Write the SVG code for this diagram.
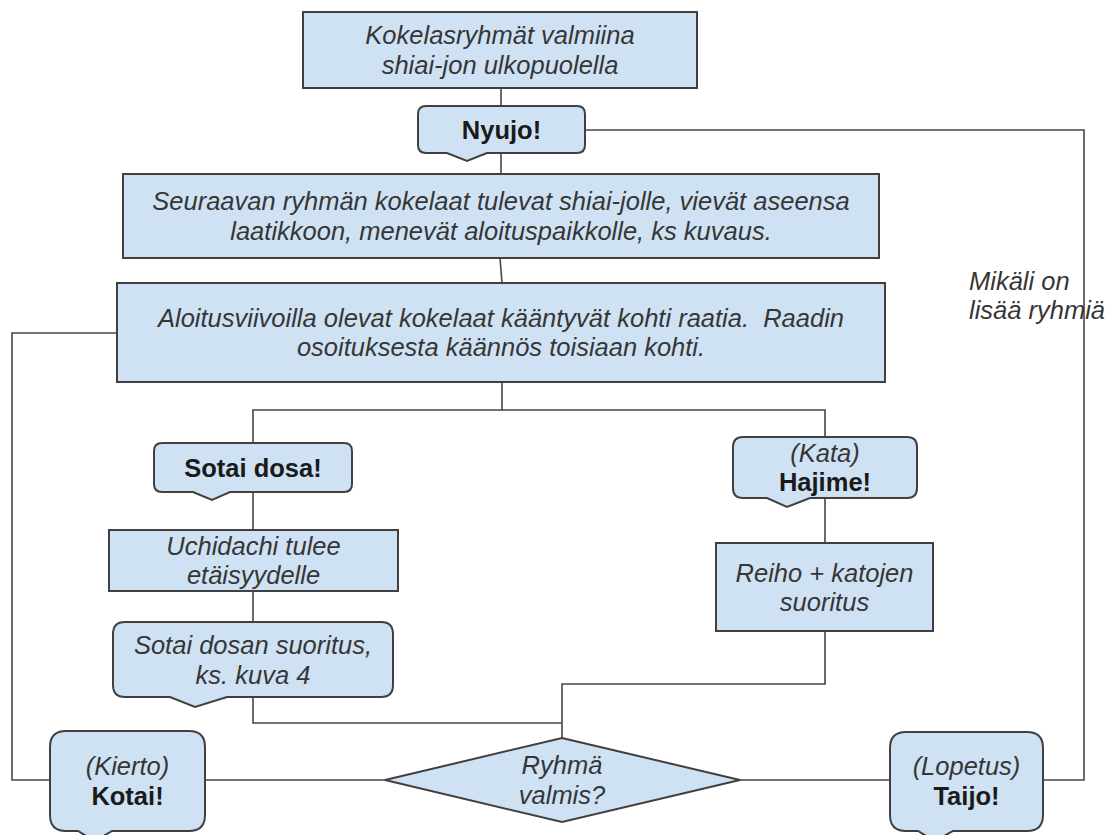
<svg xmlns="http://www.w3.org/2000/svg" width="1108" height="835" viewBox="0 0 1108 835">
<style>
.box{fill:#cfe2f3;stroke:#404040;stroke-width:2}
.ln{fill:none;stroke:#474747;stroke-width:1.6}
text{font-family:"Liberation Sans",Arial,sans-serif;font-size:25.5px;text-anchor:middle}
.i{font-style:italic;fill:#363636}
.b{font-weight:bold;fill:#1a1a1a}
</style>
<rect width="1108" height="835" fill="#ffffff"/>
<g id="connectors">
<path class="ln" d="M501,88 V106"/>
<path class="ln" d="M501,153 V174"/>
<path class="ln" d="M500,258 L502,283"/>
<path class="ln" d="M502,382 V410 H253 V443"/>
<path class="ln" d="M502,410 H825 V437"/>
<path class="ln" d="M117,333 H12 V780 H50"/>
<path class="ln" d="M253,492 V530"/>
<path class="ln" d="M253,591 V622"/>
<path class="ln" d="M253,697 V723 H562"/>
<path class="ln" d="M825,498 V543"/>
<path class="ln" d="M825,631 V684 H562 V738"/>
<path class="ln" d="M385,780 H205"/>
<path class="ln" d="M740,780 H890"/>
<path class="ln" d="M1043,780 H1084 V130 H585"/>
</g>
<g id="n1">
<rect class="box" x="303" y="12" width="394" height="76"/>
<text class="i" x="500" y="44">Kokelasryhmät valmiina</text>
<text class="i" x="500" y="73.5">shiai-jon ulkopuolella</text>
</g>
<g id="n2">
<path class="box" d="M426,106 H577 Q585,106 585,114 V145 Q585,153 577,153 H487 L467,161 L447,153 H426 Q418,153 418,145 V114 Q418,106 426,106 Z"/>
<text class="b" x="501.5" y="139">Nyujo!</text>
</g>
<g id="n3">
<rect class="box" x="123" y="174" width="756" height="84"/>
<text class="i" x="501" y="210">Seuraavan ryhmän kokelaat tulevat shiai-jolle, vievät aseensa</text>
<text class="i" x="501" y="239.5">laatikkoon, menevät aloituspaikkolle, ks kuvaus.</text>
</g>
<g id="n4">
<rect class="box" x="117" y="283" width="768" height="99"/>
<text class="i" x="501" y="326.5" style="white-space:pre">Aloitusviivoilla olevat kokelaat kääntyvät kohti raatia.  Raadin</text>
<text class="i" x="501" y="356">osoituksesta käännös toisiaan kohti.</text>
</g>
<g id="n5">
<path class="box" d="M162,443 H344 Q352,443 352,451 V484 Q352,492 344,492 H230 L212,500 L193,492 H162 Q154,492 154,484 V451 Q154,443 162,443 Z"/>
<text class="b" x="253" y="477">Sotai dosa!</text>
</g>
<g id="n6">
<rect class="box" x="109" y="530" width="289" height="61"/>
<text class="i" x="253.5" y="554.5">Uchidachi tulee</text>
<text class="i" x="253.5" y="584">etäisyydelle</text>
</g>
<g id="n7">
<path class="box" d="M125,622 H381 Q393,622 393,634 V685 Q393,697 381,697 H227 L195,707 L170,697 H125 Q113,697 113,685 V634 Q113,622 125,622 Z"/>
<text class="i" x="253" y="653.5">Sotai dosan suoritus,</text>
<text class="i" x="253" y="684">ks. kuva 4</text>
</g>
<g id="n8">
<path class="box" d="M743,437 H907 Q917,437 917,447 V488 Q917,498 907,498 H810 L787,507 L767,498 H743 Q733,498 733,488 V447 Q733,437 743,437 Z"/>
<text class="i" x="825" y="461.5">(Kata)</text>
<text class="b" x="825" y="491">Hajime!</text>
</g>
<g id="n9">
<rect class="box" x="716" y="543" width="217" height="88"/>
<text class="i" x="824.5" y="581.5">Reiho + katojen</text>
<text class="i" x="824.5" y="610.5">suoritus</text>
</g>
<g id="n10">
<polygon class="box" points="562,738 740,780 562,822 385,780"/>
<text class="i" x="562" y="774">Ryhmä</text>
<text class="i" x="562" y="803.5">valmis?</text>
</g>
<g id="n11">
<path class="box" d="M66,731 H189 Q205,731 205,747 V815 Q205,831 189,831 H112 L95,841 L78,831 H66 Q50,831 50,815 V747 Q50,731 66,731 Z"/>
<text class="i" x="127.5" y="775">(Kierto)</text>
<text class="b" x="127.5" y="804.5">Kotai!</text>
</g>
<g id="n12">
<path class="box" d="M906,732 H1027 Q1043,732 1043,748 V815 Q1043,831 1027,831 H953 L935,841 L918,831 H906 Q890,831 890,815 V748 Q890,732 906,732 Z"/>
<text class="i" x="966.5" y="775">(Lopetus)</text>
<text class="b" x="966.5" y="804.5">Taijo!</text>
</g>
<g id="label">
<text class="i" x="969" y="290" style="text-anchor:start">Mikäli on</text>
<text class="i" x="969" y="318.5" style="text-anchor:start">lisää ryhmiä</text>
</g>
</svg>
